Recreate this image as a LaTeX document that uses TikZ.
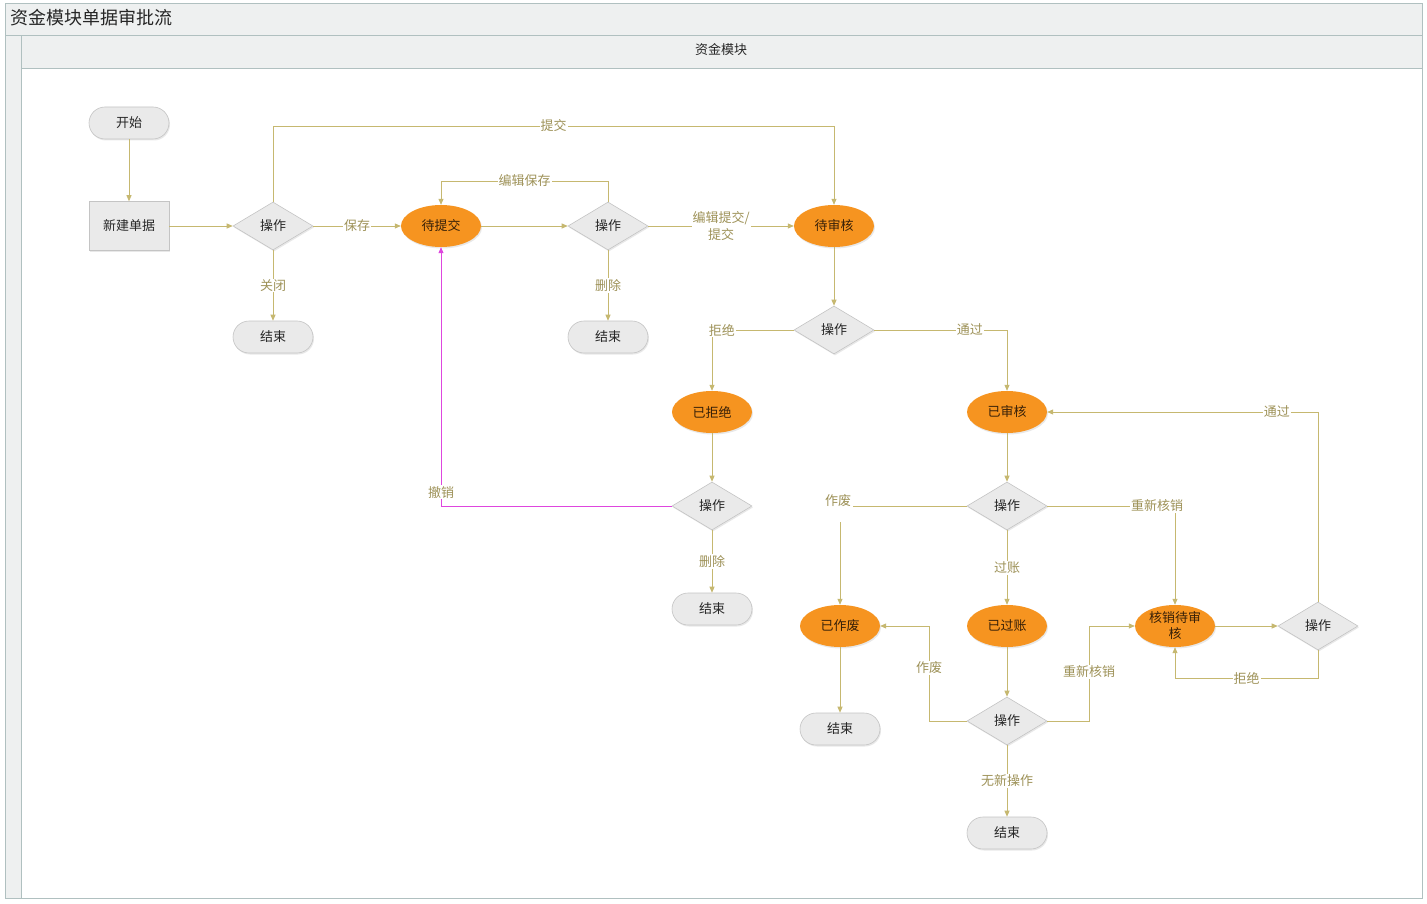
\documentclass[tikz,border=0pt]{standalone}
\usepackage{fontspec}
\setmainfont{Noto Sans CJK SC}
\usetikzlibrary{shapes.geometric,arrows.meta,shadows}
\definecolor{linecol}{RGB}{198,184,112}
\definecolor{lblcol}{RGB}{158,146,88}
\definecolor{txtcol}{RGB}{38,38,38}
\definecolor{orangecol}{RGB}{246,148,32}
\definecolor{orangetxt}{RGB}{55,32,8}
\definecolor{graycol}{RGB}{234,234,234}
\definecolor{grayborder}{RGB}{196,196,196}
\definecolor{framecol}{RGB}{176,192,192}
\definecolor{barcol}{RGB}{238,240,240}
\definecolor{magcol}{RGB}{222,70,222}
\tikzset{
  base/.style={font=\fontsize{13}{15}\selectfont, text=txtcol, inner sep=0pt,
    drop shadow={opacity=0.18, shadow xshift=1pt, shadow yshift=-1.5pt}},
  term/.style={base, rectangle, rounded corners=16pt, minimum width=80pt, minimum height=32pt,
    fill=graycol, draw=grayborder, line width=0.6pt},
  proc/.style={base, rectangle, minimum width=80pt, minimum height=49pt,
    fill=graycol, draw=grayborder, line width=0.6pt},
  dec/.style={base, diamond, minimum width=80pt, minimum height=48pt,
    fill=graycol, draw=grayborder, line width=0.6pt},
  state/.style={base, ellipse, minimum width=80pt, minimum height=42pt,
    fill=orangecol, draw=none, text=orangetxt, align=center},
  lbl/.style={font=\fontsize{13}{17}\selectfont, text=lblcol, fill=white, inner sep=1pt, align=center},
  conn/.style={draw=linecol, line width=0.8pt, -{Triangle[length=6pt,width=5pt]}},
  magconn/.style={draw=magcol, line width=0.8pt, -{Triangle[length=6pt,width=5pt]}},
}
\begin{document}
\begin{tikzpicture}[x=1pt,y=-1pt]
\useasboundingbox (0,0) rectangle (1427,904);
% frame
\fill[white] (0,0) rectangle (1427,904);
\filldraw[fill=barcol, draw=framecol, line width=0.8pt] (5,3) rectangle (1422,35);
\node[anchor=west, font=\fontsize{18}{20}\selectfont, text=txtcol, inner sep=0pt] (title) at (10,18) {资金模块单据审批流};
\filldraw[fill=barcol, draw=framecol, line width=0.8pt] (5,35) rectangle (21,898);
\filldraw[fill=barcol, draw=framecol, line width=0.8pt] (21,35) rectangle (1422,68);
\draw[framecol, line width=0.8pt] (21,68) rectangle (1422,898);
\node[font=\fontsize{13}{15}\selectfont, text=txtcol, inner sep=0pt] (lane) at (721,50) {资金模块};

% nodes
\node[term] (start) at (129,123) {开始};
\node[proc] (new) at (129,226) {新建单据};
\node[dec] (op1) at (273,226) {操作};
\node[term] (js1) at (273,337) {结束};
\node[state] (dtj) at (441,226) {待提交};
\node[dec] (op2) at (608,226) {操作};
\node[term] (js2) at (608,337) {结束};
\node[state] (dsh) at (834,226) {待审核};
\node[dec] (op3) at (834,330) {操作};
\node[state] (yjj) at (712,412) {已拒绝};
\node[state] (ysh) at (1007,412) {已审核};
\node[dec] (op4) at (712,506) {操作};
\node[term] (js3) at (712,609) {结束};
\node[dec] (op5) at (1007,506) {操作};
\node[state] (yzf) at (840,626) {已作废};
\node[state] (ygz) at (1007,626) {已过账};
\node[state, font=\fontsize{13}{16}\selectfont] (hx) at (1175,626) {核销待审\\核};
\node[dec] (op6) at (1318,626) {操作};
\node[term] (js4) at (840,729) {结束};
\node[dec] (op7) at (1007,721) {操作};
\node[term] (js5) at (1007,833) {结束};

% connectors
\draw[conn] (start) -- (new);
\draw[conn] (new) -- (op1);
\draw[conn] (op1) -- node[lbl]{保存} (dtj);
\draw[conn] (op1) -- node[lbl]{关闭} (js1);
\draw[conn] (op1.north) -- (op1.north |- 0,126) -| node[lbl,pos=0.25]{提交} (dsh.north);
\draw[conn] (dtj) -- (op2);
\draw[conn] (op2.north) -- (op2.north |- 0,181) -| node[lbl,pos=0.25]{编辑保存} (dtj.north);
\draw[conn] (op2) -- node[lbl]{删除} (js2);
\draw[conn] (op2) -- node[lbl]{编辑提交/\\提交} (dsh);
\draw[conn] (dsh) -- (op3);
\draw[conn] (op3.west) -| node[lbl,pos=0.44]{拒绝} (yjj.north);
\draw[conn] (op3.east) -| node[lbl,pos=0.36]{通过} (ysh.north);
\draw[conn] (yjj) -- (op4);
\draw[magconn] (op4.west) -| node[lbl,pos=0.527]{撤销} (dtj.south);
\draw[conn] (op4) -- node[lbl]{删除} (js3);
\draw[conn] (ysh) -- (op5);
\draw[conn] (op5.west) -| node[lbl, pos=0.5, minimum width=30pt, minimum height=32pt, xshift=-2pt]{\raisebox{11pt}{作废}} (yzf.north);
\draw[conn] (op5) -- node[lbl]{过账} (ygz);
\draw[conn] (op5.east) -| node[lbl,pos=0.43]{重新核销} (hx.north);
\draw[conn] (ygz) -- (op7);
\draw[conn] (yzf) -- (js4);
\draw[conn] (op7.west) -- (op7.west -| 929,0) |- node[lbl,pos=0.28]{作废} (yzf.east);
\draw[conn] (op7.east) -- (op7.east -| 1089,0) |- node[lbl,pos=0.26]{重新核销} (hx.west);
\draw[conn] (op7) -- node[lbl]{无新操作} (js5);
\draw[conn] (hx) -- (op6);
\draw[conn] (op6.north) |- node[lbl,pos=0.576]{通过} (ysh.east);
\draw[conn] (op6.south) -- (op6.south |- 0,678) -| node[lbl,pos=0.25]{拒绝} (hx.south);
\end{tikzpicture}
\end{document}
